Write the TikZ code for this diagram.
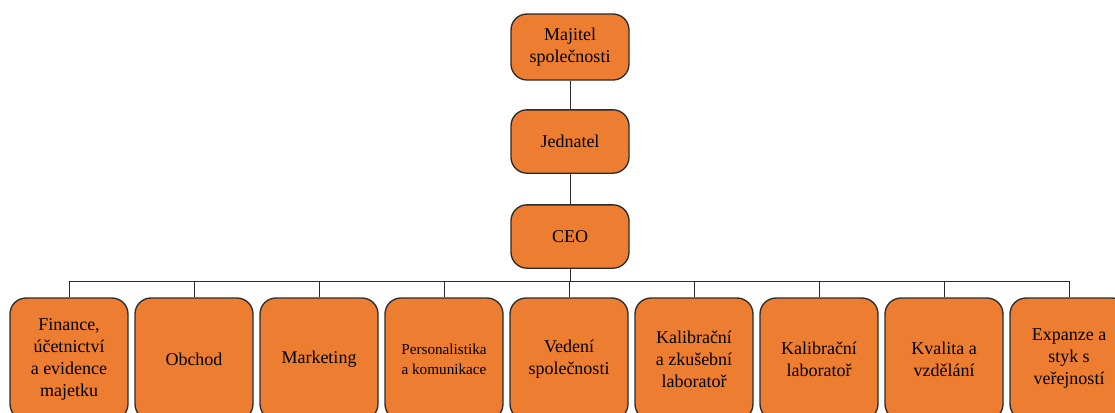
\documentclass[tikz,border=0pt]{standalone}
\usepackage{fontspec}
\setmainfont{Liberation Serif}
\usepackage{tikz}
\usetikzlibrary{positioning}
\definecolor{OrgOrange}{HTML}{ED7D31}
\definecolor{OrgLine}{HTML}{2B2B2B}

\tikzset{
  orgbox/.style={draw=OrgLine, line width=1pt, fill=OrgOrange, rounded corners=12pt,
    minimum width=88.5pt, minimum height=47.5pt, align=center, inner sep=2pt,
    font=\fontsize{13.5}{16.5}\selectfont},
  deptbox/.style={orgbox, minimum height=91.5pt},
  smalltext/.style={font=\fontsize{11.4}{15}\selectfont},
  orgline/.style={draw=OrgLine, line width=0.6pt}
}

\begin{document}
\begin{tikzpicture}[x=0.75pt, y=-0.75pt]
  \useasboundingbox (0,0) rectangle (1115,412);
  % top of the chart
  \node[orgbox, minimum height=49.5pt] (owner) at (570,47) {Majitel\\společnosti};
  \node[orgbox] (jednatel) at (570,141.5) {Jednatel};
  \node[orgbox] (ceo) at (570,236.5) {CEO};
  \draw[orgline] (owner) -- (jednatel);
  \draw[orgline] (jednatel) -- (ceo);
  \coordinate (bus) at (570,281);
  \draw[orgline] (ceo) -- (bus);
  % departments
  \foreach \i/\opt/\txt in {0//{Finance,\\účetnictví\\a evidence\\majetku},
                       1//{Obchod},
                       2//{Marketing},
                       3/smalltext/{Personalistika\\a komunikace},
                       4//{Vedení\\společnosti},
                       5//{Kalibrační\\a zkušební\\laboratoř},
                       6//{Kalibrační\\laboratoř},
                       7//{Kvalita a\\vzdělání},
                       8//{Expanze a\\styk s\\veřejností}} {
    \node[deptbox, \opt] (dept\i) at (69+125*\i,359) {\txt};
    \draw[orgline] (bus) -| (dept\i.north);
  }
\end{tikzpicture}
\end{document}
